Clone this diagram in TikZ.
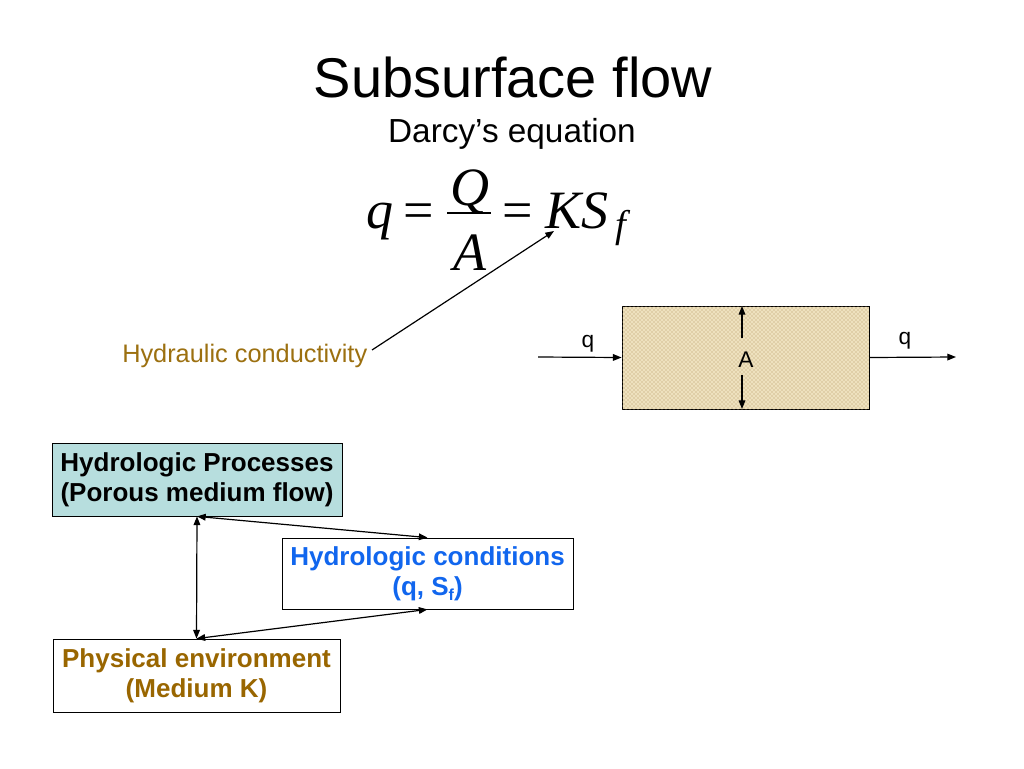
\documentclass[tikz,border=0pt]{standalone}
\usepackage{fontspec}
\setmainfont{Liberation Sans}
\newfontfamily\serif{Liberation Serif}
\usetikzlibrary{arrows.meta,patterns}
\definecolor{hcol}{HTML}{9C7010}
\definecolor{pcol}{HTML}{996600}
\definecolor{bcol}{HTML}{1166EE}
\definecolor{tealfill}{HTML}{B7DEDE}
\definecolor{sandfill}{HTML}{EEE1BE}
\definecolor{sanddot}{HTML}{B39560}
\begin{document}
\begin{tikzpicture}[x=0.75pt,y=-0.75pt,
  arr/.style={line width=0.9pt,-{Triangle[length=6.5pt,width=5pt]}},
  darr/.style={line width=0.9pt,{Triangle[length=6.5pt,width=5pt]}-{Triangle[length=6.5pt,width=5pt]}},
  eq/.style={font=\serif\itshape\fontsize{40.5}{44}\selectfont,inner sep=0pt,anchor=base},
  equ/.style={font=\serif\fontsize{40.5}{44}\selectfont,inner sep=0pt,anchor=base},
  small/.style={font=\fontsize{17}{20}\selectfont,inner sep=0pt},
  procbox/.style={draw,line width=0.6pt,align=center,inner sep=0pt,font=\bfseries\fontsize{19.5}{22.5}\selectfont}
]
\useasboundingbox (0,0) rectangle (1024,768);
\fill[white] (0,0) rectangle (1024,768);

% Title
\node[font=\fontsize{42}{48}\selectfont,anchor=base,inner sep=0pt] (title) at (513,97) {Subsurface flow};
\node[font=\fontsize{25}{30}\selectfont,anchor=base,inner sep=0pt] (sub) at (512,142) {Darcy’s equation};

% Equation
\node[eq] (eqq) at (380,228) {q};
\node[equ] (eq1) at (419,228) {=};
\draw[line width=1.2pt] (447,213) coordinate (fl) -- (491,213) coordinate (fr);
\node[eq] (eqQ) at (470,205) {Q};
\node[eq] (eqA) at (470,270) {A};
\node[equ] (eq2) at (518,228) {=};
\node[eq] (eqKS) at (577,228) {KS};
\node[eq,font=\serif\itshape\fontsize{29}{32}\selectfont] (eqf) at (621,237) {f};

% Hydraulic conductivity
\node[font=\fontsize{19}{22}\selectfont,text=hcol,anchor=base west,inner sep=0pt] (hc) at (122,362) {Hydraulic conductivity};
\coordinate (hcs) at (372,350);
\coordinate (hce) at (554,231);
\draw[arr] (hcs) -- (hce);

% Porous block
\node[draw,line width=0.6pt,fill=sandfill,postaction={pattern=crosshatch dots,pattern color=sanddot},
  minimum width=185.25pt,minimum height=77.25pt,inner sep=0pt] (blk) at (745.5,357.5) {};
\coordinate (qin) at (538,357);
\coordinate (qout) at (956,357);
\draw[arr] (qin) -- (blk.west);
\draw[arr] (blk.east) -- (qout);
\node[small] (q1) at (588,344) {q};
\node[small] (q2) at (905,341) {q};
\node[small] (lA) at (746,360) {A};
\coordinate (at) at (742,306);
\coordinate (ab) at (742,409);
\coordinate (am1) at (742,338);
\coordinate (am2) at (742,375);
\draw[arr] (am1) -- (at);
\draw[arr] (am2) -- (ab);

% Process boxes
\node[procbox,fill=tealfill,minimum width=217.5pt,minimum height=54.75pt] (proc) at (197,479.5)
  {Hydrologic Processes\\(Porous medium flow)};
\node[procbox,fill=white,text=bcol,minimum width=218.25pt,minimum height=53.25pt] (cond) at (427.5,573.5)
  {Hydrologic conditions\\(q, S\raisebox{-0.35ex}{\fontsize{12}{12}\selectfont f})};
\node[procbox,fill=white,text=pcol,minimum width=215.25pt,minimum height=54.75pt] (phys) at (196.5,675.5)
  {Physical environment\\(Medium K)};

\draw[darr] (proc.south) -- (phys.north);
\draw[darr] (proc.south) -- (cond.north);
\draw[darr] (phys.north) -- (cond.south);
\end{tikzpicture}
\end{document}
